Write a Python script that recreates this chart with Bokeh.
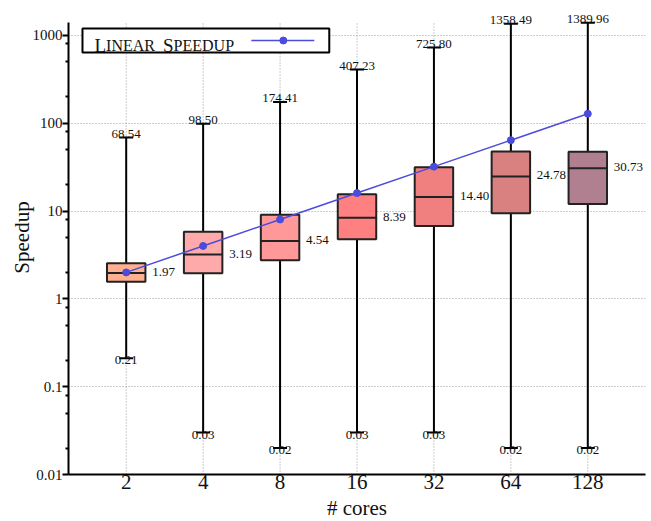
from bokeh.plotting import figure
from bokeh.models import (ColumnDataSource, LabelSet, Label, FixedTicker,
                          Range1d)
from bokeh.core.properties import value
from bokeh.embed import file_html
from bokeh.resources import INLINE
import math

# ---------------- data ----------------
cores = ["2", "4", "8", "16", "32", "64", "128"]
q1 = [1.57, 1.96, 2.75, 4.77, 6.76, 9.42, 12.0]
medians = [1.97, 3.19, 4.54, 8.39, 14.40, 24.78, 30.73]
q3 = [2.55, 5.82, 9.08, 15.5, 31.4, 47.7, 47.2]
mins = [0.21, 0.03, 0.02, 0.03, 0.03, 0.02, 0.02]
maxs = [68.54, 98.50, 174.41, 407.23, 725.80, 1358.49, 1389.96]
linear_speedup = [2, 4, 8, 16, 32, 64, 128]
box_colors = ["#FFB090", "#FFAAAA", "#FF9999", "#FF8080",
              "#F08080", "#D98080", "#B08090"]
y_ticks = [0.01, 0.1, 1, 10, 100, 1000]
y_tick_labels = ["0.01", "0.1", "1", "10", "100", "1000"]
y_minor = [k * 10.0 ** d for d in range(-2, 3) for k in (2, 5, 8)]

FONT = "Liberation Serif"
BOX_W = 0.5
Y_LO, Y_TOP = 0.01, 1400          # visible axis extent
FRAME_H = 474
HEADROOM = 22                      # px of frame above the axis top (for labels)
DEC = (FRAME_H - HEADROOM) / math.log10(Y_TOP / Y_LO)   # px per decade
Y_END = Y_TOP * 10 ** (HEADROOM / DEC)

xs = list(range(1, len(cores) + 1))

src = ColumnDataSource(dict(
    x=xs, q1=q1, med=medians, q3=q3, lo=mins, hi=maxs, lin=linear_speedup,
    color=box_colors,
    x0=[x - BOX_W / 2 for x in xs], x1=[x + BOX_W / 2 for x in xs],
    g0=[Y_LO] * len(xs), g1=[Y_TOP] * len(xs),
    med_txt=["%.2f" % m for m in medians],
    lo_txt=["%.2f" % m for m in mins],
))

p = figure(frame_width=577, frame_height=FRAME_H, y_axis_type="log",
           x_range=Range1d(0.25, len(cores) + 0.75),
           y_range=Range1d(Y_LO, Y_END),
           output_backend="svg", toolbar_location=None,
           min_border_left=68, min_border_right=3, min_border_top=0,
           min_border_bottom=10)
p.outline_line_color = None
p.background_fill_color = "white"

# axes
xa = p.xaxis[0]
xa.ticker = FixedTicker(ticks=xs)
xa.major_label_overrides = {x: c for x, c in zip(xs, cores)}
xa.axis_label = "# cores"
xa.major_tick_out = 0
xa.major_tick_in = 0
xa.minor_tick_out = 0
xa.major_label_standoff = 0
xa.axis_label_standoff = 4
xa.major_label_text_font = FONT
xa.major_label_text_font_size = "21px"
xa.axis_label_text_font = FONT
xa.axis_label_text_font_size = "21px"
xa.axis_label_text_font_style = "normal"
xa.axis_line_width = 2
xa.major_label_text_color = "#111111"
xa.axis_label_text_color = "#111111"

ya = p.yaxis[0]
ya.bounds = (Y_LO, Y_TOP)
ya.ticker = FixedTicker(ticks=y_ticks, minor_ticks=y_minor)
ya.major_label_overrides = {t: l for t, l in zip(y_ticks, y_tick_labels)}
ya.axis_label = "Speedup"
ya.major_tick_out = 6
ya.major_tick_in = 0
ya.minor_tick_out = 3
ya.minor_tick_in = 0
ya.major_tick_line_width = 2
ya.minor_tick_line_width = 2
ya.major_label_standoff = 0
ya.axis_label_standoff = -4
ya.major_label_text_font = FONT
ya.major_label_text_font_size = "15px"
ya.axis_label_text_font = FONT
ya.axis_label_text_font_size = "21px"
ya.axis_label_text_font_style = "normal"
ya.axis_line_width = 2
ya.major_label_text_color = "#111111"
ya.axis_label_text_color = "#111111"

# grids: horizontal via the grid, vertical drawn only up to the axis top
p.xgrid.visible = False
p.ygrid.ticker = FixedTicker(ticks=y_ticks)
p.ygrid.grid_line_color = "#999999"
p.ygrid.grid_line_dash = "1 2"
p.ygrid.grid_line_width = 1
p.segment(x0="x", y0="g0", x1="x", y1="g1", source=src,
          line_color="#999999", line_dash="1 2", line_width=1)

# whiskers
p.segment(x0="x", y0="q3", x1="x", y1="hi", source=src,
          line_color="black", line_width=2)
p.segment(x0="x", y0="lo", x1="x", y1="q1", source=src,
          line_color="black", line_width=2)
p.dash(x="x", y="hi", size=14, source=src, line_color="black", line_width=2)
p.dash(x="x", y="lo", size=14, source=src, line_color="black", line_width=2)

# boxes
p.vbar(x="x", width=BOX_W, bottom="q1", top="q3", source=src,
       fill_color="color", line_color="#222222", line_width=2)
p.segment(x0="x0", y0="med", x1="x1", y1="med", source=src,
          line_color="#222222", line_width=2)

# linear speedup line
LINE_C = "#4B4BDC"
p.line(x="x", y="lin", source=src, line_color=LINE_C, line_width=1.5)
p.scatter(x="x", y="lin", source=src, size=7, fill_color=LINE_C,
          line_color=LINE_C)

# value labels
for x, hi in zip(xs, maxs):
    p.add_layout(Label(x=x, y=hi, text="%.2f" % hi, text_align="center",
                       text_baseline="alphabetic", y_offset=4, text_font=FONT,
                       text_font_size="13px", text_color="#111111"))
p.add_layout(LabelSet(x="x", y="lo", text="lo_txt", source=src,
                      text_align="center", text_baseline="top",
                      y_offset=2, text_font=value(FONT),
                      text_font_size="13px", text_color="#111111"))
p.add_layout(LabelSet(x="x", y="med", text="med_txt", source=src,
                      text_align="left", text_baseline="middle",
                      x_offset=26, y_offset=1, text_font=value(FONT),
                      text_font_size="13px", text_color="#111111"))

# ---------------- legend (small caps, drawn by hand) ----------------
def lx(px):  # px right of the frame's left edge -> data x
    return 0.25 + px / 77.0
def ly(py):  # px below the axis top -> data y
    return Y_TOP * 10 ** (-py / DEC)

p.quad(left=[lx(14)], right=[lx(261)], top=[ly(6)], bottom=[ly(30)],
       fill_color="white", line_color="black", line_width=2)
p.line(x=[lx(183), lx(246)], y=[ly(18), ly(18)], line_color=LINE_C,
       line_width=1.5)
p.scatter(x=[lx(215)], y=[ly(18)], size=7, fill_color=LINE_C,
          line_color=LINE_C)
parts = [("L", 26, "19px"), ("INEAR", 37.6, "16px"),
         ("S", 94.6, "19px"), ("PEEDUP", 105.2, "16px")]
for txt, px, fs in parts:
    p.add_layout(Label(x=lx(px), y=ly(23), text=txt, text_font=FONT,
                       text_font_size=fs, text_baseline="alphabetic",
                       text_color="#111111"))

open("out.html", "w").write(file_html(p, INLINE))
